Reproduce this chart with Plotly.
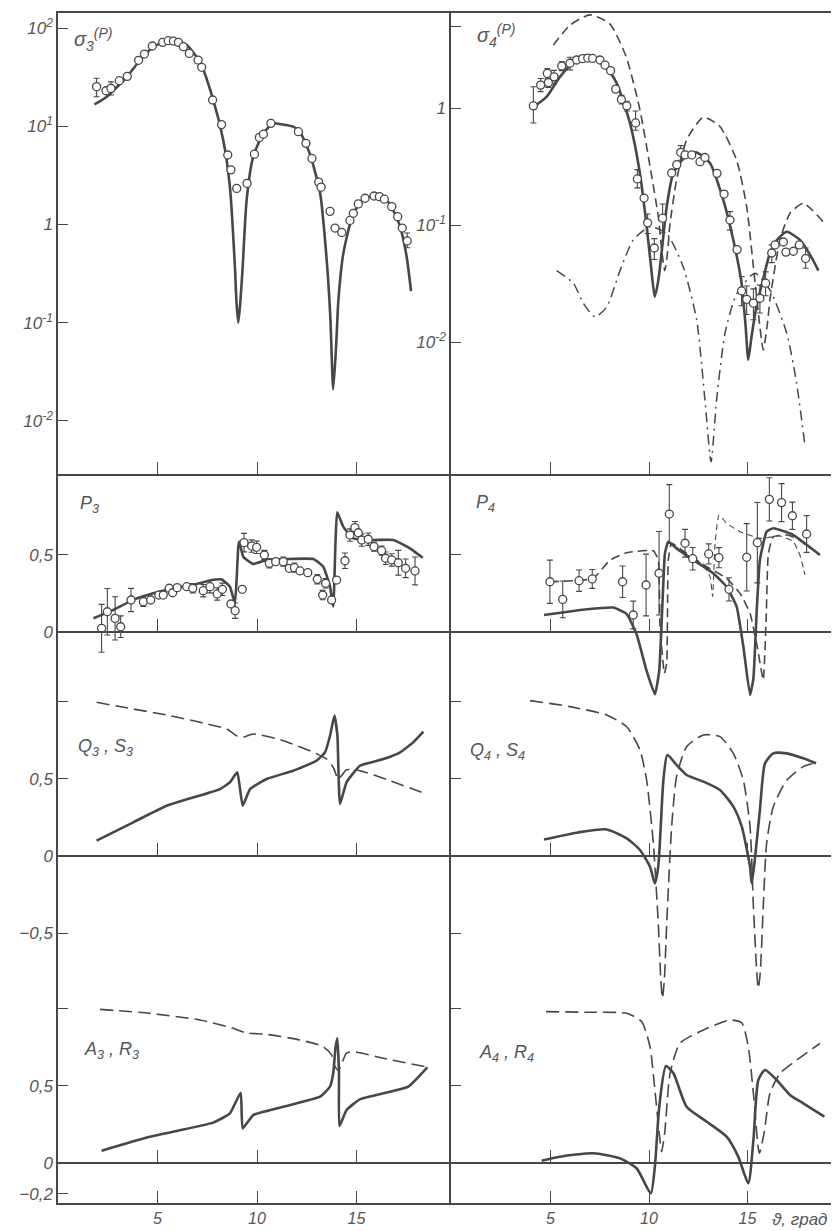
import plotly.graph_objects as go

W, H = 839, 1231          # window size
OFF = 8                   # default page margin of the html body
FW, FH = W - OFF, H - OFF  # figure size so that the figure ends at the window edge
INK = "#474747"
FONT = "Liberation Sans"

# ---------------- data: sigma3 (top left) ----------------
sig3_th = [1.83, 2.45, 3.45, 4.12, 4.62, 5.20, 5.63, 6.10, 6.47, 7.14, 7.8, 8.3, 8.64, 8.89, 8.97, 9.06, 9.16,
           9.28, 9.48, 9.81, 10.32, 10.82, 11.3, 11.82, 12.15, 12.66, 13.17, 13.5, 13.68, 13.83, 13.98, 14.09,
           14.34, 14.84, 15.34, 15.93, 16.3, 16.68, 17.19, 17.52, 17.74]
sig3_val = [16.7, 20, 31.7, 47, 60, 71, 75, 73, 67, 45, 18.6, 7.3, 2.4, 0.37, 0.16, 0.1, 0.16,
            0.37, 1.78, 4.9, 8.5, 10.7, 10.4, 9.9, 8.8, 5.2, 2.1, 0.44, 0.12, 0.021, 0.06, 0.17,
            0.51, 1.3, 1.78, 2.0, 1.9, 1.62, 0.95, 0.47, 0.21]
sig3_exp_th = [1.94, 2.41, 2.66, 3.08, 3.48, 4.05, 4.34, 4.74, 5.26, 5.54, 5.80, 6.05, 6.30, 6.60, 7.04, 7.22,
               7.77, 8.22, 8.53, 8.69, 8.98, 9.50, 9.87, 10.12, 10.32, 10.70, 12.08, 12.46, 12.76, 13.10, 13.22,
               13.67, 13.92, 14.26, 14.67, 14.84, 15.09, 15.43, 15.88, 16.15, 16.40, 16.77, 17.07, 17.30, 17.55]
sig3_exp = [25.3, 23.0, 24.3, 29.1, 32.2, 46.9, 54.3, 65.6, 71.5, 74.3, 73.7, 71.5, 64.6, 55.2, 47.2, 39.8,
            18.5, 10.4, 5.1, 3.6, 2.33, 2.62, 5.2, 7.7, 8.3, 10.7, 8.8, 6.7, 4.7, 2.7, 2.4,
            1.36, 0.92, 0.83, 1.10, 1.30, 1.62, 1.85, 1.95, 1.92, 1.81, 1.52, 1.20, 0.92, 0.68]
sig3_err_up = [5.5, 0, 4.0] + [0] * 41 + [0.14]
sig3_err_dn = [5.3, 0, 3.5] + [0] * 41 + [0.10]

# ---------------- data: sigma4 (top right) ----------------
sig4_th = [4.21, 4.81, 5.48, 6.16, 7.0, 7.68, 8.36, 9.04, 9.54, 9.88, 10.1, 10.29, 10.45, 10.56, 10.9, 11.23,
           11.91, 12.42, 13.1, 13.77, 14.28, 14.7, 14.9, 15.04, 15.2, 15.45, 15.8, 16.1, 16.5, 16.99, 17.66,
           18.2, 18.6]
sig4_val = [1.05, 1.26, 1.86, 2.43, 2.63, 2.43, 1.64, 0.74, 0.278, 0.098, 0.045, 0.0245, 0.032, 0.044, 0.144,
            0.278, 0.4, 0.42, 0.34, 0.165, 0.075, 0.032, 0.014, 0.0071, 0.011, 0.02, 0.035, 0.055, 0.075, 0.088,
            0.075, 0.055, 0.041]
sig4b_th = [5.14, 6.0, 7.0, 8.0, 8.84, 9.54, 10.05, 10.47, 10.65, 10.8, 10.95, 11.05, 11.4, 11.91, 12.76, 13.6,
            14.45, 14.96, 15.3, 15.6, 15.8, 16.0, 16.14, 16.65, 17.16, 17.83, 18.85]
sig4b_val = [3.47, 5.15, 6.3, 5.3, 2.76, 0.97, 0.32, 0.119, 0.06, 0.041, 0.06, 0.098, 0.244, 0.537, 0.84, 0.70,
             0.36, 0.144, 0.044, 0.015, 0.0086, 0.014, 0.023, 0.075, 0.127, 0.154, 0.107]
sig4c_th = [5.31, 6.16, 6.66, 7.26, 7.85, 8.53, 9.2, 10.05, 10.9, 11.74, 12.42, 12.84, 13.15, 13.43, 13.86,
            14.45, 15.38, 16.14, 16.99, 17.49, 17.92]
sig4c_val = [0.041, 0.032, 0.0216, 0.0165, 0.020, 0.041, 0.075, 0.097, 0.085, 0.044, 0.0155, 0.0032, 0.00095,
             0.0032, 0.012, 0.026, 0.039, 0.028, 0.012, 0.0045, 0.0013]
sig4_exp_th = [4.13, 4.50, 4.89, 4.84, 5.18, 5.57, 5.99, 6.33, 6.63, 6.89, 7.14, 7.51, 7.77, 8.05, 8.31, 8.60,
               8.87, 9.32, 9.41, 9.75, 9.93, 10.27, 10.69, 11.15, 11.41, 11.61, 11.83, 12.17, 12.59, 12.84,
               13.45, 13.81, 14.11, 14.47, 14.70, 14.96, 15.30, 15.63, 15.92, 16.23, 16.40, 16.82, 16.95,
               17.33, 17.63, 17.95]
sig4_exp = [1.05, 1.58, 1.66, 1.99, 1.86, 2.30, 2.43, 2.59, 2.66, 2.69, 2.67, 2.59, 2.34, 2.10, 1.46, 1.19,
            1.05, 0.75, 0.249, 0.171, 0.105, 0.064, 0.115, 0.28, 0.33, 0.42, 0.40, 0.40, 0.35, 0.38,
            0.278, 0.185, 0.111, 0.062, 0.0275, 0.0233, 0.0216, 0.0238, 0.032, 0.058, 0.068, 0.072, 0.059,
            0.060, 0.068, 0.052]
sig4_err_up = [0.48, 0.22, 0.15, 0.2, 0.25, 0.2, 0.3, 0, 0, 0, 0, 0, 0, 0, 0, 0.1,
               0.1, 0.2, 0.05, 0, 0.02, 0.013, 0.037, 0, 0, 0.06, 0, 0, 0, 0,
               0, 0, 0.02, 0, 0.009, 0.007, 0.007, 0.007, 0.008, 0.01, 0, 0, 0, 0, 0, 0.012]
sig4_err_dn = [0.30, 0.19, 0.15, 0.2, 0.25, 0.2, 0.3, 0, 0, 0, 0, 0, 0, 0, 0, 0.1,
               0.1, 0.1, 0.04, 0, 0.02, 0.013, 0.029, 0, 0, 0.06, 0, 0, 0, 0,
               0, 0, 0.02, 0, 0.007, 0.006, 0.006, 0.006, 0.007, 0.01, 0, 0, 0, 0, 0, 0.009]

# ---------------- data: P3, P4 ----------------
p3_th = [1.78, 2.78, 3.78, 4.79, 5.80, 6.80, 7.80, 8.23, 8.64, 8.89, 8.98, 9.06, 9.11, 9.31, 9.81, 10.48, 11.49,
         12.83, 13.33, 13.67, 13.83, 13.95, 14.03, 14.34, 14.84, 15.84, 16.85, 17.69, 18.33]
p3_val = [0.089, 0.143, 0.208, 0.25, 0.283, 0.305, 0.338, 0.34, 0.293, 0.186, 0.35, 0.55, 0.585, 0.487, 0.44,
          0.466, 0.472, 0.472, 0.422, 0.293, 0.164, 0.6, 0.775, 0.68, 0.606, 0.595, 0.595, 0.541, 0.48]
p3_exp_th = [2.19, 2.48, 2.87, 3.15, 3.67, 4.29, 4.66, 5.07, 5.29, 5.59, 5.76, 5.99, 6.47, 6.77, 7.30, 7.64, 8.0,
             8.26, 8.69, 8.9, 9.26, 9.35, 9.73, 9.98, 10.37, 10.62, 10.94, 11.32, 11.62, 11.88, 12.16, 12.55,
             13.03, 13.3, 13.45, 13.75, 14.0, 14.42, 14.67, 14.92, 15.09, 15.26, 15.59, 15.88, 16.26, 16.46,
             16.77, 17.1, 17.47, 17.94]
p3_exp = [0.024, 0.131, 0.088, 0.034, 0.207, 0.196, 0.207, 0.239, 0.239, 0.283, 0.254, 0.287, 0.293, 0.283,
          0.267, 0.293, 0.246, 0.276, 0.181, 0.138, 0.276, 0.578, 0.556, 0.548, 0.498, 0.444, 0.455, 0.455,
          0.412, 0.416, 0.395, 0.384, 0.341, 0.239, 0.315, 0.207, 0.336, 0.461, 0.627, 0.675, 0.642, 0.595,
          0.6, 0.552, 0.526, 0.477, 0.466, 0.448, 0.412, 0.395]
p3_err = [0.155, 0.15, 0.14, 0.07, 0.075, 0.03, 0, 0, 0, 0, 0, 0, 0, 0.03, 0.04, 0.04, 0.04, 0.04, 0, 0.05,
          0, 0.06, 0.04, 0.04, 0.03, 0.03, 0, 0.03, 0, 0.03, 0, 0, 0.03, 0.03, 0.03, 0, 0, 0.05, 0.04, 0.04,
          0, 0.04, 0.04, 0.03, 0.03, 0.04, 0.04, 0.08, 0.06, 0.09]

p4_th = [4.67, 6.84, 8.19, 8.87, 9.37, 9.88, 10.3, 10.52, 10.69, 10.81, 10.98, 11.4, 12.25, 13.26, 13.94, 14.45,
         14.79, 15.13, 15.3, 15.47, 15.63, 15.97, 16.31, 17.33, 18.68]
p4_val = [0.11, 0.147, 0.158, 0.116, -0.015, -0.252, -0.403, -0.25, 0.207, 0.509, 0.584, 0.541, 0.466, 0.38,
          0.293, 0.164, -0.095, -0.407, -0.3, 0.142, 0.466, 0.649, 0.671, 0.627, 0.498]
p4b_th = [4.97, 7.17, 8.02, 8.87, 10.22, 10.47, 10.56, 10.78, 10.9, 10.98, 11.15, 11.91, 12.93, 13.94, 14.62,
          15.13, 15.5, 15.8, 15.95, 16.06, 16.31, 16.99, 17.5, 18.17]
p4b_val = [0.325, 0.347, 0.466, 0.513, 0.526, 0.466, 0.034, -0.267, -0.2, 0.466, 0.574, 0.509, 0.422, 0.347,
           0.25, 0.121, -0.1, -0.31, 0.1, 0.509, 0.616, 0.627, 0.606, 0.541]
p4c_th = [11.91, 12.76, 13.1, 13.23, 13.35, 13.55, 13.94, 14.62, 15.63, 16.65, 17.33, 17.66, 17.92]
p4c_val = [0.498, 0.433, 0.358, 0.228, 0.57, 0.757, 0.703, 0.649, 0.606, 0.621, 0.584, 0.498, 0.369]
p4_exp_th = [4.97, 5.62, 6.45, 7.12, 8.66, 9.2, 9.85, 10.51, 11.03, 11.83, 12.22, 13.03, 13.55, 14.06, 14.96,
             15.5, 16.11, 16.73, 17.28, 18.0]
p4_exp = [0.325, 0.211, 0.332, 0.343, 0.325, 0.11, 0.304, 0.38, 0.763, 0.574, 0.474, 0.505, 0.481, 0.276,
          0.483, 0.578, 0.858, 0.837, 0.752, 0.634]
p4_err = [0.14, 0.119, 0.069, 0.061, 0.102, 0.09, 0.2, 0.27, 0.19, 0.09, 0.073, 0.065, 0.065, 0.075, 0.218,
          0.26, 0.14, 0.123, 0.088, 0.119]

# ---------------- data: Q3,S3 / Q4,S4 ----------------
q3s_th = [1.94, 3.78, 5.46, 7.14, 8.48, 8.98, 9.31, 9.81, 11.32, 12.83, 13.5, 13.83, 14.08, 14.25, 14.5, 15.17,
          16.68, 18.27]
q3s_val = [0.994, 0.951, 0.912, 0.865, 0.821, 0.778, 0.768, 0.789, 0.746, 0.671, 0.627, 0.574, 0.498, 0.52,
           0.558, 0.552, 0.487, 0.412]
q3_th = [1.94, 3.78, 5.46, 8.14, 8.64, 9.01, 9.28, 9.65, 10.48, 11.82, 12.99, 13.42, 13.67, 13.89, 14.04, 14.17,
         14.5, 15.17, 16.35, 17.19, 17.85, 18.36]
q3_val = [0.099, 0.218, 0.325, 0.433, 0.477, 0.541, 0.325, 0.433, 0.498, 0.552, 0.616, 0.671, 0.778, 0.908,
          0.78, 0.336, 0.477, 0.584, 0.627, 0.671, 0.735, 0.804]
q4s_th = [3.96, 5.99, 7.85, 8.87, 9.54, 9.88, 10.22, 10.47, 10.6, 10.68, 10.78, 10.9, 11.15, 11.4, 11.91, 12.76,
          13.6, 14.28, 14.79, 15.13, 15.3, 15.47, 15.55, 15.65, 15.8, 15.97, 16.31, 16.99, 17.83, 18.43]
q4s_val = [1.005, 0.966, 0.912, 0.836, 0.686, 0.49, 0.082, -0.435, -0.8, -0.92, -0.8, -0.435, 0.19, 0.513,
           0.707, 0.783, 0.772, 0.664, 0.49, 0.19, -0.328, -0.75, -0.856, -0.75, -0.328, 0.082, 0.319, 0.49,
           0.578, 0.603]
q4_th = [4.67, 6.33, 7.85, 8.87, 9.54, 10.05, 10.3, 10.47, 10.6, 10.73, 10.93, 11.4, 11.91, 12.76, 13.6, 14.28,
         14.71, 15.0, 15.13, 15.21, 15.35, 15.63, 15.89, 16.31, 16.99, 17.83, 18.48]
q4_val = [0.107, 0.151, 0.172, 0.114, 0.039, -0.069, -0.177, -0.069, 0.2, 0.49, 0.653, 0.589, 0.524, 0.481,
          0.427, 0.319, 0.19, 0.02, -0.069, -0.177, -0.05, 0.298, 0.6, 0.664, 0.664, 0.632, 0.6]

# ---------------- data: A3,R3 / A4,R4 ----------------
r3_th = [2.11, 4.62, 7.14, 8.81, 9.4, 10.48, 12.16, 13.33, 13.75, 13.92, 14.1, 14.5, 14.84, 16.35, 18.44]
r3_val = [0.994, 0.968, 0.925, 0.871, 0.843, 0.832, 0.796, 0.752, 0.699, 0.623, 0.6, 0.71, 0.72, 0.677, 0.623]
a3_th = [2.19, 4.62, 7.8, 8.64, 9.18, 9.28, 9.81, 11.32, 13.17, 13.67, 13.83, 13.95, 14.04, 14.12, 14.14, 14.5,
         15.17, 16.35, 17.6, 18.56]
a3_val = [0.08, 0.17, 0.261, 0.321, 0.455, 0.224, 0.31, 0.364, 0.429, 0.494, 0.58, 0.752, 0.807, 0.58, 0.239,
          0.343, 0.412, 0.451, 0.494, 0.619]
r4_th = [4.77, 6.84, 8.87, 9.63, 10.05, 10.3, 10.52, 10.64, 10.8, 11.07, 11.57, 12.76, 14.11, 14.71, 15.04,
         15.3, 15.6, 15.85, 16.14, 16.65, 17.5, 18.68]
r4_val = [0.979, 0.975, 0.968, 0.914, 0.752, 0.472, 0.192, 0.073, 0.2, 0.58, 0.774, 0.86, 0.925, 0.907, 0.752,
          0.451, 0.063, 0.2, 0.451, 0.58, 0.666, 0.774]
a4_th = [4.55, 5.48, 7.17, 8.53, 9.37, 10.09, 10.3, 10.52, 10.86, 11.24, 11.91, 12.93, 13.94, 14.53, 15.04,
         15.3, 15.55, 15.89, 16.48, 17.16, 17.83, 18.9]
a4_val = [0.015, 0.041, 0.063, 0.030, -0.034, -0.196, -0.02, 0.364, 0.627, 0.58, 0.364, 0.267, 0.17, 0.041,
          -0.131, 0.149, 0.537, 0.602, 0.537, 0.44, 0.386, 0.3]

# ---------------- tick labels ----------------
x_ticks = [5, 10, 15]
x_tick_text = ["5", "10", "15"]
sig3_ticks = [0.01, 0.1, 1, 10, 100]
sig3_tick_text = ["10<sup>-2</sup>", "10<sup>-1</sup>", "1", "10<sup>1</sup>", "10<sup>2</sup>"]
sig4_ticks = [0.01, 0.1, 1, 5]
sig4_tick_text = ["10<sup>-2</sup>", "10<sup>-1</sup>", "1", ""]


# ---------------- geometry helpers (window pixel -> paper) ----------------
def X(px):
    return (px - OFF) / FW


def Y(py):
    return 1 - (py - OFF) / FH


SCALE = 154.6          # pixels per unit for the linear panels
LEFT = [X(58), X(451)]
RIGHT = [X(451), 1.0]
XR_L = [0, (451 - 58) / 19.9]
XR_R = [(451 - 452) / 19.7, (839 - 452) / 19.7]

fig = go.Figure()


def curve(x, y, xa, ya, dash="solid", width=2.6, smooth=0.6):
    fig.add_trace(go.Scatter(x=x, y=y, mode="lines", xaxis=xa, yaxis=ya, showlegend=False,
                             hoverinfo="skip",
                             line=dict(color=INK, width=width, dash=dash, shape="spline",
                                       smoothing=smooth)))


def points(x, y, xa, ya, up=None, dn=None):
    err = None
    if up is not None:
        err = dict(type="data", symmetric=dn is None, array=up,
                   arrayminus=dn if dn is not None else None,
                   color=INK, thickness=1.1, width=3)
    fig.add_trace(go.Scatter(x=x, y=y, mode="markers", xaxis=xa, yaxis=ya, showlegend=False,
                             hoverinfo="skip", error_y=err,
                             marker=dict(symbol="circle", size=8, color="white",
                                         line=dict(color=INK, width=1.3))))


DASH = "9px,5px"
DASHDOT = "10px,5px,2px,5px"
LDASH = "13px,6px"

# top row
curve(sig3_th, sig3_val, "x", "y")
points(sig3_exp_th, sig3_exp, "x", "y", sig3_err_up, sig3_err_dn)
curve(sig4b_th, sig4b_val, "x2", "y2", dash=DASH, width=1.6)
curve(sig4c_th, sig4c_val, "x2", "y2", dash=DASHDOT, width=1.5)
curve(sig4_th, sig4_val, "x2", "y2")
points(sig4_exp_th, sig4_exp, "x2", "y2", sig4_err_up, sig4_err_dn)
# P row
curve(p3_th, p3_val, "x3", "y3", smooth=0.4)
points(p3_exp_th, p3_exp, "x3", "y3", p3_err)
curve(p4b_th, p4b_val, "x4", "y4", dash=DASH, width=1.6, smooth=0.4)
curve(p4c_th, p4c_val, "x4", "y4", dash="6px,4px", width=1.1, smooth=0.4)
curve(p4_th, p4_val, "x4", "y4", smooth=0.4)
points(p4_exp_th, p4_exp, "x4", "y4", p4_err)
# Q,S row
curve(q3s_th, q3s_val, "x5", "y5", dash=LDASH, width=1.6)
curve(q3_th, q3_val, "x5", "y5", smooth=0.4)
curve(q4s_th, q4s_val, "x6", "y6", dash=LDASH, width=1.6)
curve(q4_th, q4_val, "x6", "y6")
# A,R row
curve(r3_th, r3_val, "x9", "y7", dash=LDASH, width=1.6)
curve(a3_th, a3_val, "x7", "y7", smooth=0.4)
curve(r4_th, r4_val, "x10", "y8", dash=LDASH, width=1.6)
curve(a4_th, a4_val, "x8", "y8")

tickfont = dict(family=FONT, size=17, color="#555", style="italic")
axline = dict(showline=True, linecolor=INK, linewidth=1.5, ticks="inside", tickcolor=INK,
              tickwidth=1.3, showgrid=False, zeroline=False)


def xax(dom, rng, **kw):
    d = dict(axline, domain=dom, range=rng, tickvals=x_ticks, ticklen=12, showticklabels=False)
    d.update(kw)
    return d


def yax(top, bottom, rng, anchor, vals, text=None, **kw):
    d = dict(axline, domain=[Y(bottom), Y(top)], range=rng, anchor=anchor, tickvals=vals,
             ticklen=10, tickfont=tickfont)
    if text is None:
        d["showticklabels"] = False
    else:
        d["ticktext"] = text
    d.update(kw)
    return d


def lin_range(zero_py, top_py, bottom_py):
    return [-(bottom_py - zero_py) / SCALE, (zero_py - top_py) / SCALE]


r1 = (13, 474)
r2 = (474, 710)
r3 = (632, 1010)
r4 = (856, 1203)

fig.update_layout(
    width=FW, height=FH, margin=dict(l=0, r=0, t=0, b=0),
    paper_bgcolor="white", plot_bgcolor="rgba(0,0,0,0)",
    xaxis=xax(LEFT, XR_L, anchor="y", mirror=True),
    xaxis2=xax(RIGHT, XR_R, anchor="y2", mirror=True),
    xaxis3=xax(LEFT, XR_L, anchor="free", position=Y(632)),
    xaxis4=xax(RIGHT, XR_R, anchor="free", position=Y(632)),
    xaxis5=xax(LEFT, XR_L, anchor="free", position=Y(856)),
    xaxis6=xax(RIGHT, XR_R, anchor="free", position=Y(856)),
    xaxis7=xax(LEFT, XR_L, anchor="y7", showticklabels=True, ticktext=x_tick_text,
               tickfont=dict(tickfont, size=16), ticklabelstandoff=0),
    xaxis8=xax(RIGHT, XR_R, anchor="y8", showticklabels=True, ticktext=x_tick_text,
               tickfont=dict(tickfont, size=16), ticklabelstandoff=0),
    xaxis9=xax(LEFT, XR_L, overlaying="x7", anchor="free", position=Y(1163)),
    xaxis10=xax(RIGHT, XR_R, overlaying="x8", anchor="free", position=Y(1163)),
    yaxis=yax(*r1, [-2.54, 2.153], "x", sig3_ticks, sig3_tick_text, type="log"),
    yaxis2=yax(*r1, [-3.126, 0.815], "x2", sig4_ticks, sig4_tick_text, type="log"),
    yaxis3=yax(*r2, lin_range(632, *r2), "x3", [0, 0.5], ["0", "0,5"]),
    yaxis4=yax(*r2, lin_range(632, *r2), "x4", [0.5]),
    yaxis5=yax(*r3, lin_range(856, *r3), "x5", [-0.5, 0, 0.5, 1.0], ["−0,5", "0", "0,5", ""]),
    yaxis6=yax(*r3, lin_range(856, *r3), "x6", [-0.5, 0.5, 1.0]),
    yaxis7=yax(*r4, lin_range(1163, *r4), "x7", [-0.2, 0, 0.5, 1.0], ["−0,2", "0", "0,5", ""]),
    yaxis8=yax(*r4, lin_range(1163, *r4), "x8", [0.5, 1.0]),
)

labels = [
    ("σ<sub>3</sub><sup>(P)</sup>", 72, 40, 20),
    ("σ<sub>4</sub><sup>(P)</sup>", 475, 36, 20),
    ("P<sub>3</sub>", 78, 505, 18),
    ("P<sub>4</sub>", 474, 503, 18),
    ("Q<sub>3</sub> , S<sub>3</sub>", 76, 747, 18),
    ("Q<sub>4</sub> , S<sub>4</sub>", 468, 752, 18),
    ("A<sub>3</sub> , R<sub>3</sub>", 82, 1050, 18),
    ("A<sub>4</sub> , R<sub>4</sub>", 477, 1053, 18),
    ("ϑ, град", 770, 1219, 17),
]
for txt, px, py, fs in labels:
    fig.add_annotation(text=txt, xref="paper", yref="paper", x=X(px), y=Y(py), xanchor="left",
                       yanchor="middle", showarrow=False,
                       font=dict(family=FONT, size=fs, color="#555", style="italic"))

fig.write_html("out.html")
